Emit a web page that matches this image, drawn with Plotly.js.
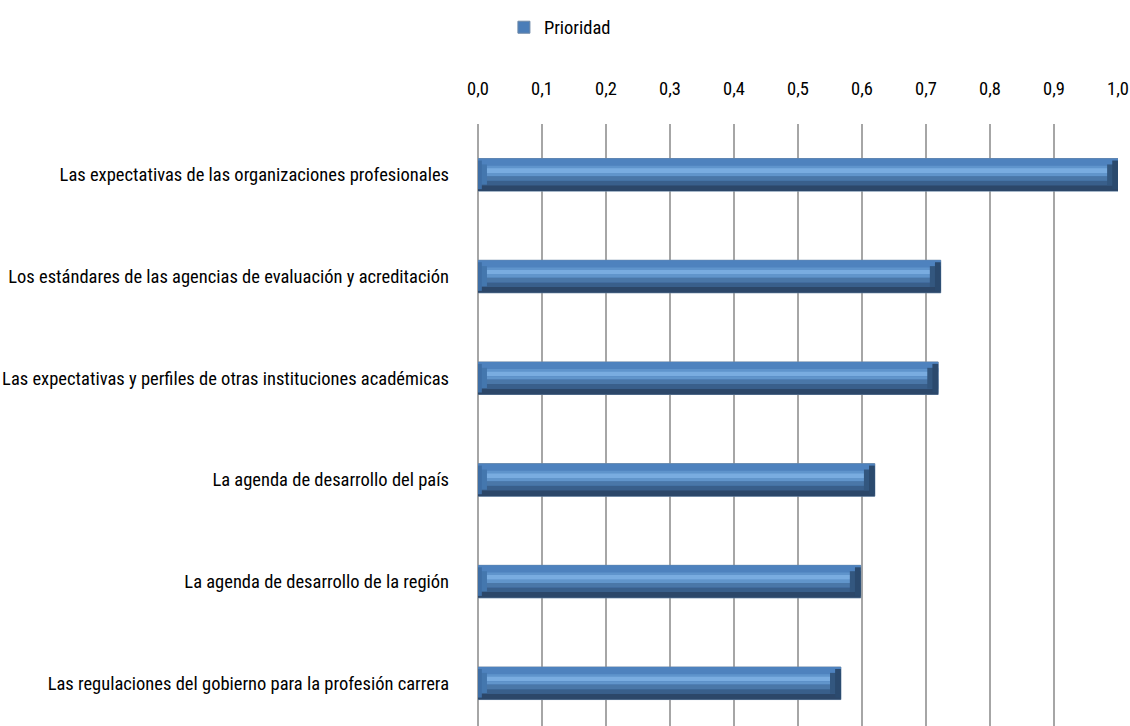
<!DOCTYPE html>
<html><head><meta charset="utf-8">
<script src="https://cdn.plot.ly/plotly-3.0.1.min.js"></script>
<style>html,body{margin:0;padding:0;background:#fff}</style>
</head><body>
<div id="chart" style="width:1130px;height:726px"></div>
<script>
const categories = [
  "Las expectativas de las organizaciones profesionales",
  "Los estándares de las agencias de evaluación y acreditación",
  "Las expectativas y perfiles de otras instituciones académicas",
  "La agenda de desarrollo del país",
  "La agenda de desarrollo de la región",
  "Las regulaciones del gobierno para la profesión carrera"
];
const prioridad = [1.0, 0.723, 0.719, 0.620, 0.598, 0.567];
const seriesName = "Prioridad";
const tickVals = [0,0.1,0.2,0.3,0.4,0.5,0.6,0.7,0.8,0.9,1.0];

// pick narrowest installed regular-weight condensed font, size so longest label ~441px
const cv = document.createElement("canvas").getContext("2d");
function w(font, txt){ cv.font = font; return cv.measureText(txt).width; }
function installed(f){
  const t = "abcdefghijklmnopqrstuvwxyz ABCDEF 0123";
  return w("40px '" + f + "', monospace", t) !== w("40px monospace", t) ||
         w("40px '" + f + "', serif", t) !== w("40px serif", t);
}
let fam = "DejaVu Sans Condensed";
let best = 1e9;
["Liberation Sans Narrow", "Roboto Condensed", "DejaVu Sans Condensed"].forEach(f => {
  if (installed(f)) {
    const ww = w("20px '" + f + "'", categories[2]);
    if (ww < best) { best = ww; fam = f; }
  }
});
if (best === 1e9) best = w("20px 'DejaVu Sans Condensed'", categories[2]);
let fs = Math.min(20, Math.round(20 * 441 / best * 2) / 2);
const FONT = fam + ", sans-serif";

const BW = 0.32;
const layers = [
  [0.00, 1.00, "#2d4a6c"],
  [0.00, 0.30, "#4e82be"],
  [0.22, 0.10, "#5f94cc"],
  [0.30, 0.14, "#79ace0"],
  [0.44, 0.10, "#6195cb"],
  [0.54, 0.14, "#4a77a8"],
  [0.68, 0.14, "#395f8b"],
  [0.82, 0.18, "#2c4769"]
];
const traces = [];
layers.forEach((L, i) => {
  traces.push({
    type: "bar", orientation: "h",
    y: categories, x: prioridad,
    width: BW * L[1],
    offset: -BW/2 + BW * L[0],
    marker: {color: i === 0 ? "#4a7db8" : L[2], line: {width: i === 0 ? 1 : 0, color: "#6d88a6"}},
    name: seriesName,
    showlegend: i === 0,
    hoverinfo: i === 0 ? "x+y" : "skip"
  });
});
const caps = [
  [v => v - 0.017, 0.017, 0.18, 0.64, "#33577f"],
  [v => v - 0.009, 0.009, 0.06, 0.88, "#2b4a6e"],
  [v => 0, 0.014, 0.18, 0.62, "#4477ae"],
  [v => 0, 0.006, 0.06, 0.88, "#3e6ea5"]
];
caps.forEach(c => {
  traces.push({
    type: "bar", orientation: "h", y: categories,
    x: prioridad.map(() => c[1]),
    base: prioridad.map(c[0]),
    width: BW * c[3], offset: -BW/2 + BW * c[2],
    marker: {color: c[4]}, showlegend: false, hoverinfo: "skip"
  });
});

const layout = {
  width: 1130, height: 726,
  margin: {l: 478, r: 12, t: 124, b: 0, pad: 0, autoexpand: false},
  paper_bgcolor: "#fff", plot_bgcolor: "#fff",
  barmode: "overlay",
  separators: ",.",
  font: {family: FONT, size: fs, color: "#000"},
  showlegend: true,
  legend: {orientation: "h", x: 0.128, xanchor: "center", y: 1.16, yanchor: "middle",
           font: {family: FONT, size: fs, color: "#000"}, bgcolor: "rgba(0,0,0,0)",
           itemwidth: 30},
  xaxis: {
    side: "top", range: [0, 1.0], tickvals: tickVals, tickformat: ".1f",
    showgrid: true, gridcolor: "#a6a6a6", gridwidth: 2,
    zeroline: true, zerolinecolor: "#a6a6a6", zerolinewidth: 2,
    showline: false, ticks: "", ticklabelstandoff: 24,
    tickfont: {family: FONT, size: fs, color: "#000"}, fixedrange: true
  },
  yaxis: {
    type: "category", categoryorder: "array", categoryarray: categories,
    range: [5.42, -0.5], showgrid: false, zeroline: false, showline: false,
    ticks: "", ticklabelstandoff: 28,
    tickfont: {family: FONT, size: fs, color: "#000"}, fixedrange: true
  }
};
Plotly.newPlot("chart", traces, layout, {displayModeBar: false, staticPlot: true});
</script>
</body></html>
